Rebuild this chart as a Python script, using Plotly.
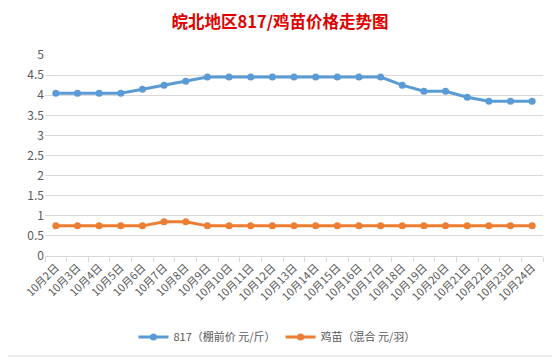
import plotly.graph_objects as go

dates = [f"10月{d}日" for d in range(2, 25)]
price_817 = [4.05, 4.05, 4.05, 4.05, 4.15, 4.25, 4.35, 4.45, 4.45, 4.45, 4.45, 4.45,
             4.45, 4.45, 4.45, 4.45, 4.25, 4.1, 4.1, 3.95, 3.85, 3.85, 3.85]
price_chick = [0.75, 0.75, 0.75, 0.75, 0.75, 0.85, 0.85, 0.75, 0.75, 0.75, 0.75, 0.75,
               0.75, 0.75, 0.75, 0.75, 0.75, 0.75, 0.75, 0.75, 0.75, 0.75, 0.75]
y_ticks = [0, 0.5, 1, 1.5, 2, 2.5, 3, 3.5, 4, 4.5, 5]
y_tick_text = ["0", "0.5", "1", "1.5", "2", "2.5", "3", "3.5", "4", "4.5", "5"]

FONT = "Noto Sans CJK SC, Liberation Sans, sans-serif"
GRAY = "#595959"

fig = go.Figure()
fig.add_trace(go.Scatter(x=dates, y=price_817, mode="lines+markers",
                         name="817（棚前价 元/斤）",
                         line=dict(color="#5B9BD5", width=3),
                         marker=dict(color="#5B9BD5", size=7)))
fig.add_trace(go.Scatter(x=dates, y=price_chick, mode="lines+markers",
                         name="鸡苗（混合 元/羽）",
                         line=dict(color="#ED7D31", width=3),
                         marker=dict(color="#ED7D31", size=7)))

fig.update_layout(
    width=560, height=361,
    margin=dict(l=37, r=25, t=47, b=113),
    paper_bgcolor="white", plot_bgcolor="white",
    font=dict(family=FONT, color=GRAY, size=11),
    title=dict(text="<b>皖北地区817/鸡苗价格走势图</b>", x=(280 - 8) / 560, xanchor="center",
               y=1 - 14 / 361, yanchor="middle",
               font=dict(family=FONT, size=16.5, color="#E00000")),
    showlegend=True,
    legend=dict(orientation="h", x=(277 - 45) / 498, xanchor="center", y=-0.403,
                yanchor="middle", font=dict(family=FONT, size=11, color=GRAY)),
    xaxis=dict(type="category", tickangle=-45, showgrid=False, automargin=False,
               showline=True, linecolor="#D9D9D9", ticks="outside",
               tickson="boundaries", tickcolor="#D9D9D9", ticklen=5,
               tickfont=dict(size=11, color=GRAY), range=[-0.5, len(dates) - 0.5]),
    yaxis=dict(range=[0, 5], tickvals=y_ticks, ticktext=y_tick_text, automargin=False,
               showgrid=True, gridcolor="#D9D9D9", gridwidth=1,
               zeroline=False, showline=False, ticks="",
               tickfont=dict(size=12, color=GRAY)),
    shapes=[dict(type="rect", xref="paper", yref="paper",
                 x0=-38 / 498, x1=1 + 12 / 498, y0=-100 / 201, y1=1 + 50 / 201,
                 line=dict(color="#D9D9D9", width=1))],
)

fig.write_html("out.html")
